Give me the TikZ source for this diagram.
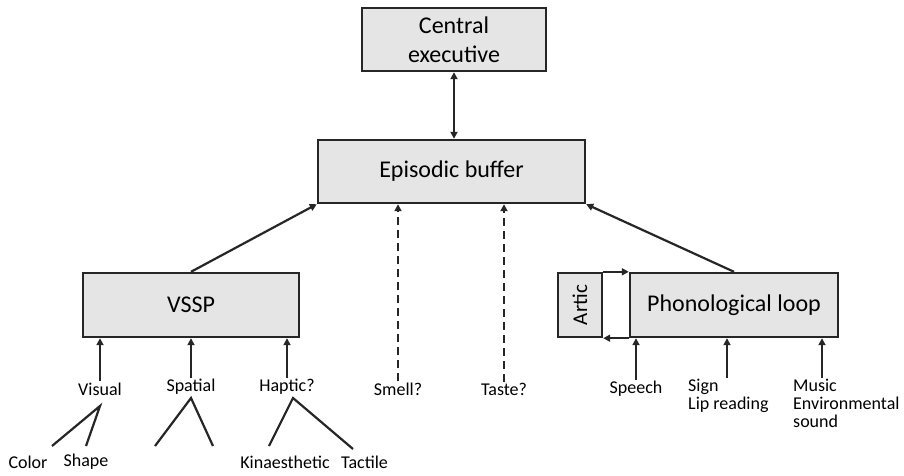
\documentclass[tikz,border=0pt]{standalone}
\usepackage{fontspec}
\setmainfont{Carlito}
\usetikzlibrary{arrows.meta}
\tikzset{
  box/.style={draw=black!85, line width=2.4pt, fill=black!10, inner sep=0pt, font=\fontsize{24}{29}\selectfont, align=center},
  lab/.style={inner sep=1pt, font=\fontsize{18}{18}\selectfont, text=black},
  arr/.style={draw=black!85, line width=2.2pt, -{Triangle[length=7pt,width=7pt]}},
  darr/.style={arr, dash pattern=on 8pt off 5pt},
  branch/.style={draw=black!85, line width=2.2pt},
}
\begin{document}
\begin{tikzpicture}[x=1pt,y=-1pt]
\useasboundingbox (0,0) rectangle (904,476);
% main boxes
\node[box, minimum width=184pt, minimum height=63pt] (ce) at (454,39.5) {Central\\executive};
\node[box, minimum width=267pt, minimum height=63pt] (eb) at (451.5,171.5) {Episodic buffer};
\node[box, minimum width=216pt, minimum height=64pt] (vssp) at (191,305) {VSSP};
\node[box, minimum width=44pt, minimum height=64pt, font=\fontsize{21}{24}\selectfont] (artic) at (580,305) {\rotatebox{90}{Artic}};
\node[box, minimum width=208pt, minimum height=64pt] (phon) at (734,305) {Phonological loop};
% loop
\draw[arr] (artic.north east) -- (phon.north west);
\draw[arr] (phon.south west) -- (artic.south east);
% top connections
\draw[arr, {Triangle[length=7pt,width=7pt]}-{Triangle[length=7pt,width=7pt]}] (ce.south) -- (eb.north -| ce.south);
\draw[arr] (vssp.north) -- (eb.south west);
\draw[arr] (phon.north) -- (eb.south east);
% VSSP inputs
\node[lab] (visual) at (100,389) {Visual};
\node[lab] (spatial) at (191,387) {Spatial};
\node[lab] (haptic) at (287,387) {Haptic?};
\draw[arr] (visual.north) -- (visual.north |- vssp.south);
\draw[arr] (spatial.north) -- (spatial.north |- vssp.south);
\draw[arr] (haptic.north) -- (haptic.north |- vssp.south);
% smell / taste
\node[lab] (smell) at (398,389) {Smell?};
\node[lab] (taste) at (504,389) {Taste?};
\draw[darr] (smell.north) -- (smell.north |- eb.south);
\draw[darr] (taste.north) -- (taste.north |- eb.south);
% phonological inputs
\node[lab] (speech) at (636,389) {Speech};
\node[lab, anchor=north west, align=left] (sign) at (687,378) {Sign\\Lip reading};
\node[lab, anchor=north west, align=left] (music) at (792,378) {Music\\Environmental\\sound};
\coordinate (signtop) at (727,378);
\coordinate (musictop) at (822,378);
\draw[arr] (speech.north) -- (speech.north |- phon.south);
\draw[arr] (signtop) -- (signtop |- phon.south);
\draw[arr] (musictop) -- (musictop |- phon.south);
% bottom leaves
\node[lab] (color) at (28,462) {Color};
\node[lab] (shape) at (86,462) {Shape};
\node[lab] (kin) at (285,462) {Kinaesthetic};
\node[lab, anchor=west] (tactile) at (340,462) {Tactile};
\coordinate (va) at (100,406);
\coordinate (v1) at (52,446);
\coordinate (v2) at (86,446);
\coordinate (sa) at (191,398);
\coordinate (s1) at (155,446);
\coordinate (s2) at (213,446);
\coordinate (ha) at (293,398);
\coordinate (h1) at (269,446);
\coordinate (h2) at (353,449);
\draw[branch] (v1) -- (va) -- (v2);
\draw[branch] (s1) -- (sa) -- (s2);
\draw[branch] (h1) -- (ha) -- (h2);
\end{tikzpicture}
\end{document}
